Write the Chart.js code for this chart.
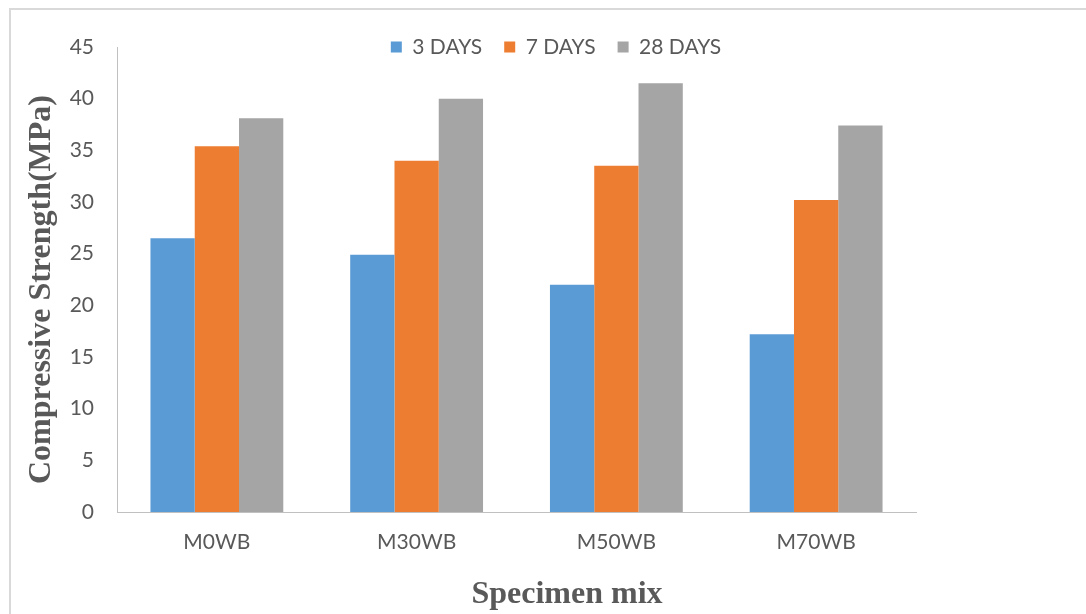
<!DOCTYPE html>
<html>
<head>
<meta charset="utf-8">
<script src="https://cdn.jsdelivr.net/npm/chart.js@4"></script>
<style>
  html, body { margin: 0; padding: 0; background: #fff; overflow: hidden; }
  #frame {
    position: absolute; left: 9px; top: 8px; width: 1100px; height: 620px;
    border: 2px solid #d9d9d9; box-sizing: border-box;
  }
  #wrap { position: absolute; left: 0; top: 0; width: 1086px; height: 614px; }
</style>
</head>
<body>
<div id="frame"></div>
<div id="wrap"><canvas id="chart" width="1086" height="614"></canvas></div>
<script>
const mixes = ["M0WB", "M30WB", "M50WB", "M70WB"];
const days3 = [26.5, 24.9, 22.0, 17.2];
const days7 = [35.4, 34.0, 33.5, 30.2];
const days28 = [38.1, 40.0, 41.5, 37.4];
const seriesNames = ["3 DAYS", "7 DAYS", "28 DAYS"];

const textColor = "#595959";
const tickFont = { family: "Lato", size: 21 };
const titleFont = { family: "Liberation Serif", size: 32, weight: "bold" };
const legendPadding = 22;

// move legend and titles to where the original puts them
const placeBoxes = {
  id: "placeBoxes",
  afterLayout(chart) {
    const legend = chart.legend;
    centerBox(legend, 556, null);
    // legend clips to its own box, so give it room below the text
    legend.top = 47 - legendPadding - 10.5;
    legend.bottom = legend.top + 70;

    centerBox(chart.titleBlock, 41.5, 289.5);
    const sub = chart.boxes.find((b) => b.options && b.options.text === "Specimen mix");
    if (sub) centerBox(sub, 567, 595);
  },
};

function centerBox(box, cx, cy) {
  if (!box) return;
  if (cx !== null) {
    const w = box.right - box.left;
    box.left = cx - w / 2;
    box.right = box.left + w;
  }
  if (cy !== null) {
    const h = box.bottom - box.top;
    box.top = cy - h / 2;
    box.bottom = box.top + h;
  }
}

addEventListener("DOMContentLoaded", () => {
  const ctx = document.getElementById("chart");

  new Chart(ctx, {
    type: "bar",
    data: {
      labels: mixes,
      datasets: [
        { label: seriesNames[0], data: days3, backgroundColor: "#5B9BD5" },
        { label: seriesNames[1], data: days7, backgroundColor: "#ED7D31" },
        { label: seriesNames[2], data: days28, backgroundColor: "#A5A5A5" },
      ],
    },
    options: {
      responsive: false,
      animation: false,
      datasets: {
        bar: { categoryPercentage: 0.665, barPercentage: 1.0, borderWidth: 0 },
      },
      layout: { padding: { left: 0, right: 170, top: 7, bottom: 13.6 } },
      scales: {
        x: {
          grid: { display: false, drawTicks: false },
          border: { color: "#c0c0c0", width: 1 },
          ticks: { color: textColor, font: tickFont, padding: 18 },
          afterFit(scale) {
            scale.height = 50;
          },
        },
        y: {
          min: 0,
          max: 45,
          grid: { display: false, drawTicks: false },
          border: { color: "#c0c0c0", width: 1 },
          ticks: { stepSize: 5, color: textColor, font: tickFont, padding: 23 },
          afterFit(scale) {
            scale.width = 78.6;
          },
        },
      },
      plugins: {
        legend: {
          position: "top",
          maxHeight: 40,
          labels: {
            boxWidth: 11,
            boxHeight: 11,
            padding: legendPadding,
            color: textColor,
            font: tickFont,
          },
        },
        title: {
          display: true,
          position: "left",
          text: "Compressive Strength(MPa)",
          color: textColor,
          font: titleFont,
          padding: 0,
        },
        subtitle: {
          display: true,
          position: "bottom",
          text: "Specimen mix",
          color: textColor,
          font: titleFont,
          padding: 0,
        },
        tooltip: { enabled: false },
      },
    },
    plugins: [placeBoxes],
  });
});
</script>
</body>
</html>
